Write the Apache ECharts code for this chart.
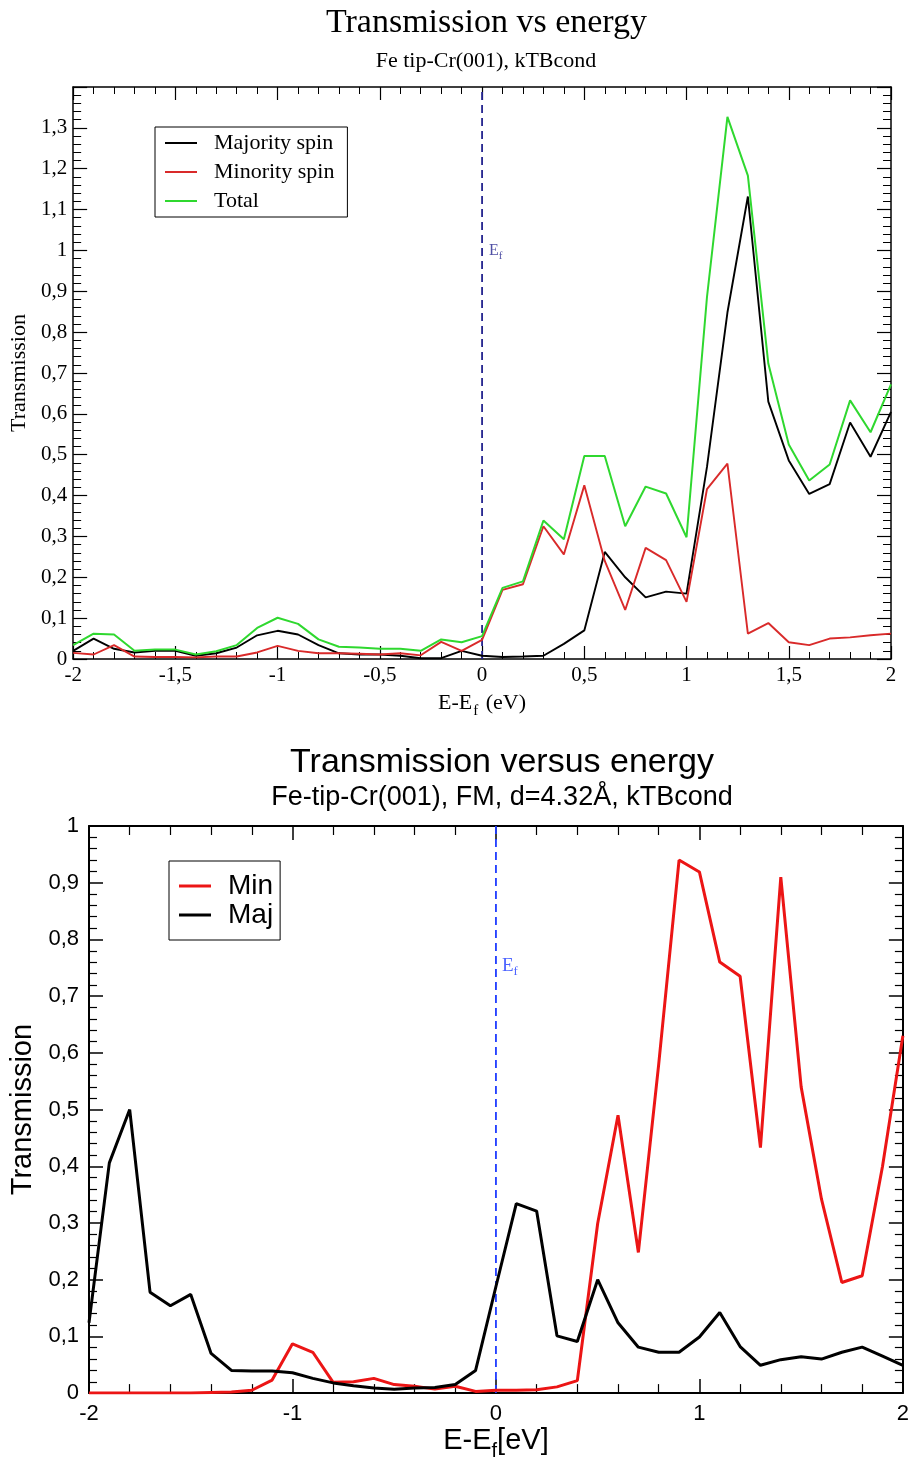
<!DOCTYPE html>
<html>
<head>
<meta charset="utf-8">
<script src="https://cdn.jsdelivr.net/npm/echarts@6/dist/echarts.min.js"></script>
<style>
html,body{margin:0;padding:0;background:#fff;}
#chart{width:912px;height:1462px;}
</style>
</head>
<body>
<div id="chart"></div>
<script>
// Energy grid E - Ef (eV), shared by both panels
const energies = [-2.0,-1.9,-1.8,-1.7,-1.6,-1.5,-1.4,-1.3,-1.2,-1.1,-1.0,-0.9,-0.8,-0.7,-0.6,-0.5,-0.4,-0.3,-0.2,-0.1,
  0.0,0.1,0.2,0.3,0.4,0.5,0.6,0.7,0.8,0.9,1.0,1.1,1.2,1.3,1.4,1.5,1.6,1.7,1.8,1.9,2.0];

// Top panel: Fe tip-Cr(001), kTBcond
const topMajority = [0.02,0.05,0.025,0.016,0.02,0.02,0.008,0.014,0.028,0.058,0.069,0.06,0.034,0.014,0.011,0.011,0.008,0.002,0.002,0.02,
  0.008,0.005,0.006,0.008,0.037,0.07,0.262,0.2,0.151,0.165,0.16,0.47,0.848,1.132,0.63,0.486,0.404,0.428,0.579,0.495,0.605];
const topMinority = [0.015,0.011,0.034,0.006,0.005,0.005,0.004,0.006,0.006,0.016,0.032,0.02,0.014,0.014,0.013,0.011,0.014,0.009,0.042,0.02,
  0.047,0.169,0.183,0.325,0.256,0.425,0.24,0.12,0.272,0.242,0.14,0.416,0.478,0.062,0.088,0.041,0.034,0.05,0.053,0.058,0.062];
const topTotal = [0.034,0.062,0.06,0.02,0.023,0.023,0.011,0.019,0.034,0.076,0.101,0.086,0.048,0.03,0.028,0.025,0.025,0.02,0.048,0.041,
  0.056,0.174,0.19,0.339,0.293,0.497,0.497,0.325,0.422,0.405,0.298,0.886,1.327,1.183,0.723,0.525,0.437,0.476,0.633,0.555,0.672];

// Bottom panel: Fe-tip-Cr(001), FM, d=4.32 Å
const botMin = [0,0,0,0,0,0,0.001,0.002,0.005,0.023,0.087,0.072,0.019,0.02,0.026,0.015,0.012,0.007,0.012,0.003,
  0.005,0.005,0.006,0.011,0.022,0.299,0.49,0.248,0.58,0.94,0.919,0.76,0.735,0.433,0.91,0.54,0.342,0.195,0.207,0.4,0.63];
const botMaj = [0.124,0.406,0.5,0.178,0.154,0.174,0.07,0.04,0.039,0.039,0.036,0.026,0.018,0.013,0.009,0.007,0.009,0.01,0.015,0.04,
  0.188,0.334,0.321,0.101,0.091,0.2,0.124,0.081,0.072,0.072,0.099,0.142,0.082,0.049,0.059,0.064,0.06,0.072,0.081,0.065,0.049];

// Fermi level marker
const fermiEnergy = 0;
const topYRange = [0, 1.4];
const botYRange = [0, 1.0];
const topFermiLabelY = 1.0;
const botFermiLabelY = 0.753;

const SERIF = '"Liberation Serif","DejaVu Serif",serif';
const SANS = '"Liberation Sans",Arial,"DejaVu Sans",sans-serif';

function pairs(xs, ys){ return xs.map((x,i)=>[x, ys[i]]); }
function comma(v){ const r = Math.round(v*100)/100; return String(r).replace('.', ','); }

const chart = echarts.init(document.getElementById('chart'), null, {renderer:'canvas'});

function frameAxis(base){
  return Object.assign({
    type:'value', splitLine:{show:false}, minorSplitLine:{show:false}
  }, base);
}
function line(color, width){ return {show:true, onZero:false, lineStyle:{color:color, width:width}}; }

const option = {
  backgroundColor:'#fff',
  animation:false,
  title:[
    {text:'Transmission vs energy', left:481.5, top:1, textAlign:'center',
     textStyle:{fontFamily:SERIF, fontSize:34, fontWeight:'normal', color:'#000'}},
    {text:'Fe tip-Cr(001), kTBcond', left:481, top:45, textAlign:'center',
     textStyle:{fontFamily:SERIF, fontSize:22, fontWeight:'normal', color:'#000'}},
    {text:'Transmission versus energy', left:497, top:741, textAlign:'center',
     textStyle:{fontFamily:SANS, fontSize:34, fontWeight:'normal', color:'#000'}},
    {text:'Fe-tip-Cr(001), FM, d=4.32Å, kTBcond', left:497, top:779, textAlign:'center',
     textStyle:{fontFamily:SANS, fontSize:27, fontWeight:'normal', color:'#000'}}
  ],
  legend:[
    {data:['Majority spin','Minority spin','Total'], orient:'vertical', left:155, top:127,
     padding:[5,13,5,10], itemGap:7, itemWidth:32, itemHeight:2, icon:'rect',
     borderColor:'#000', borderWidth:1, backgroundColor:'#fff',
     textStyle:{fontFamily:SERIF, fontSize:22, lineHeight:22, color:'#000', padding:[0,0,0,12]}},
    {data:['Min','Maj'], orient:'vertical', left:169, top:861,
     padding:[11,7,11,10], itemGap:1, itemWidth:32, itemHeight:3, icon:'rect',
     borderColor:'#000', borderWidth:1, backgroundColor:'#fff',
     textStyle:{fontFamily:SANS, fontSize:28, lineHeight:28, color:'#000', padding:[0,0,0,12]}}
  ],
  grid:[
    {left:72, top:87, width:819, height:572, containLabel:false},
    {left:89, top:826, width:816, height:571, containLabel:false}
  ],
  xAxis:[
    frameAxis({gridIndex:0, position:'bottom', min:-2, max:2, interval:0.5,
      axisLine:line('#000',1.5),
      axisTick:{show:true, inside:true, length:13, lineStyle:{color:'#000', width:1.2}},
      minorTick:{show:true, splitNumber:5, length:7, lineStyle:{color:'#000', width:1}},
      axisLabel:{show:true, margin:6, fontFamily:SERIF, fontSize:21, color:'#000', formatter:comma},
      name:'{n|E-E}{s|f}{n| (eV)}', nameLocation:'middle', nameGap:33,
      nameTextStyle:{rich:{
        n:{fontFamily:SERIF, fontSize:22, lineHeight:22, color:'#000', verticalAlign:'top'},
        s:{fontFamily:SERIF, fontSize:15, lineHeight:15, color:'#000', verticalAlign:'top', padding:[12,2,0,1]}
      }}}),
    frameAxis({gridIndex:0, position:'top', min:-2, max:2, interval:0.5,
      axisLine:line('#000',1.5),
      axisTick:{show:true, inside:true, length:13, lineStyle:{color:'#000', width:1.2}},
      minorTick:{show:true, splitNumber:5, length:7, lineStyle:{color:'#000', width:1}},
      axisLabel:{show:false}}),
    frameAxis({gridIndex:1, position:'bottom', min:-2, max:2, interval:1,
      axisLine:line('#000',2),
      axisTick:{show:true, inside:true, length:14, lineStyle:{color:'#000', width:1.5}},
      minorTick:{show:true, splitNumber:5, length:9, lineStyle:{color:'#000', width:1.2}},
      axisLabel:{show:true, margin:10, fontFamily:SANS, fontSize:22, color:'#000', formatter:comma},
      name:'{n|E-E}{s|f}{n|[eV]}', nameLocation:'middle', nameGap:27,
      nameTextStyle:{rich:{
        n:{fontFamily:SANS, fontSize:29, lineHeight:29, color:'#000', verticalAlign:'top'},
        s:{fontFamily:SANS, fontSize:20, lineHeight:20, color:'#000', verticalAlign:'top', padding:[15,0,0,0]}
      }}}),
    frameAxis({gridIndex:1, position:'top', min:-2, max:2, interval:1,
      axisLine:line('#000',2),
      axisTick:{show:true, inside:true, length:14, lineStyle:{color:'#000', width:1.5}},
      minorTick:{show:true, splitNumber:5, length:9, lineStyle:{color:'#000', width:1.2}},
      axisLabel:{show:false}})
  ],
  yAxis:[
    frameAxis({gridIndex:0, position:'left', min:topYRange[0], max:topYRange[1], interval:0.1,
      axisLine:line('#000',1.5),
      axisTick:{show:true, inside:true, length:14, lineStyle:{color:'#000', width:1.2}},
      minorTick:{show:true, splitNumber:5, length:8, lineStyle:{color:'#000', width:1}},
      axisLabel:{show:true, margin:6, fontFamily:SERIF, fontSize:21, color:'#000',
        formatter:function(v){ return Math.abs(v-1.4)<1e-6 ? '' : comma(v); }},
      name:'Transmission', nameLocation:'middle', nameGap:38, nameRotate:90,
      nameTextStyle:{fontFamily:SERIF, fontSize:22, color:'#000'}}),
    frameAxis({gridIndex:0, position:'right', min:topYRange[0], max:topYRange[1], interval:0.1,
      axisLine:line('#000',1.5),
      axisTick:{show:true, inside:true, length:14, lineStyle:{color:'#000', width:1.2}},
      minorTick:{show:true, splitNumber:5, length:8, lineStyle:{color:'#000', width:1}},
      axisLabel:{show:false}}),
    frameAxis({gridIndex:1, position:'left', min:botYRange[0], max:botYRange[1], interval:0.1,
      axisLine:line('#000',2),
      axisTick:{show:true, inside:true, length:14, lineStyle:{color:'#000', width:1.5}},
      minorTick:{show:true, splitNumber:5, length:8, lineStyle:{color:'#000', width:1.2}},
      axisLabel:{show:true, margin:10, fontFamily:SANS, fontSize:22, color:'#000', formatter:comma},
      name:'Transmission', nameLocation:'middle', nameGap:44, nameRotate:90,
      nameTextStyle:{fontFamily:SANS, fontSize:29, color:'#000'}}),
    frameAxis({gridIndex:1, position:'right', min:botYRange[0], max:botYRange[1], interval:0.1,
      axisLine:line('#000',2),
      axisTick:{show:true, inside:true, length:14, lineStyle:{color:'#000', width:1.5}},
      minorTick:{show:true, splitNumber:5, length:8, lineStyle:{color:'#000', width:1.2}},
      axisLabel:{show:false}})
  ],
  series:[
    {name:'Ef top', type:'line', xAxisIndex:0, yAxisIndex:0, symbol:'none', silent:true,
     data:[[fermiEnergy, topYRange[0]],[fermiEnergy, topYRange[1]]],
     lineStyle:{color:'#24248f', width:1.8, type:[8,5]}, z:1},
    {name:'Majority spin', type:'line', xAxisIndex:0, yAxisIndex:0, symbol:'none',
     data:pairs(energies, topMajority), color:'#000', lineStyle:{color:'#000', width:1.9}, z:2},
    {name:'Minority spin', type:'line', xAxisIndex:0, yAxisIndex:0, symbol:'none',
     data:pairs(energies, topMinority), color:'#d92a2a', lineStyle:{color:'#d92a2a', width:1.9}, z:3},
    {name:'Total', type:'line', xAxisIndex:0, yAxisIndex:0, symbol:'none',
     data:pairs(energies, topTotal), color:'#2fd82f', lineStyle:{color:'#2fd82f', width:2}, z:4},
    {name:'Ef top label', type:'scatter', xAxisIndex:0, yAxisIndex:0, symbolSize:0, silent:true,
     data:[[fermiEnergy, topFermiLabelY]],
     label:{show:true, position:'right', distance:7, formatter:'{e|E}{f|f}',
       rich:{e:{fontFamily:SERIF, fontSize:16, lineHeight:16, color:'#24248f', verticalAlign:'top'},
             f:{fontFamily:SERIF, fontSize:11, lineHeight:11, color:'#24248f', verticalAlign:'top', padding:[8,0,0,0]}}}},
    {name:'Ef bottom', type:'line', xAxisIndex:2, yAxisIndex:2, symbol:'none', silent:true,
     data:[[fermiEnergy, botYRange[0]],[fermiEnergy, botYRange[1]]],
     lineStyle:{color:'#1f3cff', width:1.8, type:[8,5]}, z:1},
    {name:'Min', type:'line', xAxisIndex:2, yAxisIndex:2, symbol:'none',
     data:pairs(energies, botMin), color:'#ec1515', lineStyle:{color:'#ec1515', width:3}, z:2},
    {name:'Maj', type:'line', xAxisIndex:2, yAxisIndex:2, symbol:'none',
     data:pairs(energies, botMaj), color:'#000', lineStyle:{color:'#000', width:3}, z:3},
    {name:'Ef bottom label', type:'scatter', xAxisIndex:2, yAxisIndex:2, symbolSize:0, silent:true,
     data:[[fermiEnergy, botFermiLabelY]],
     label:{show:true, position:'right', distance:6, formatter:'{e|E}{f|f}',
       rich:{e:{fontFamily:SERIF, fontSize:19, lineHeight:19, color:'#1f3cff', verticalAlign:'top'},
             f:{fontFamily:SERIF, fontSize:13, lineHeight:13, color:'#1f3cff', verticalAlign:'top', padding:[9,0,0,0]}}}}
  ]
};
chart.setOption(option);
</script>
</body>
</html>
